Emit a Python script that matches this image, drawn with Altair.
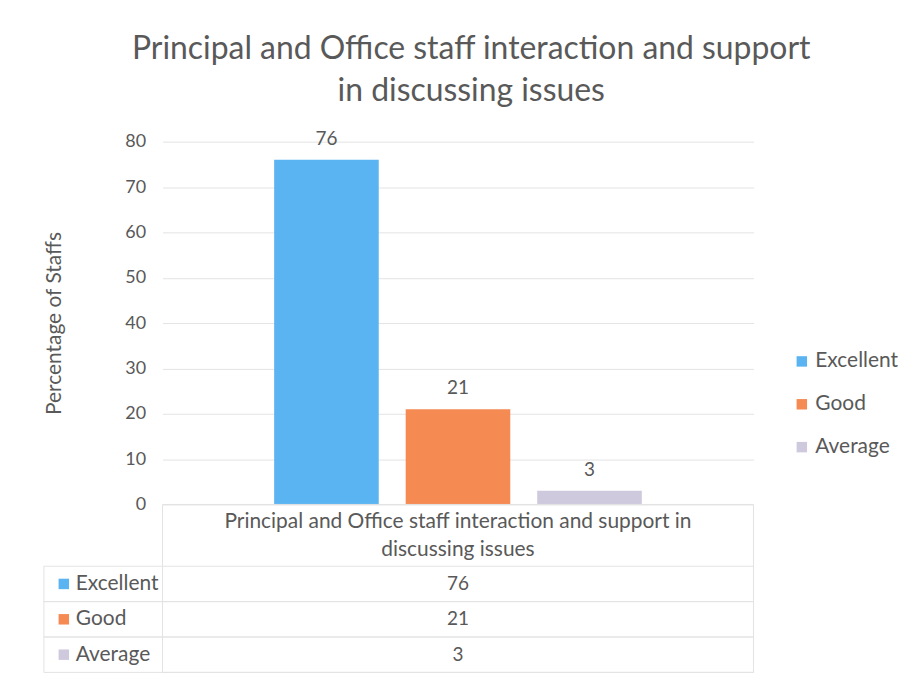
import altair as alt
import pandas as pd

# ---- data ----
title_lines = ["Principal and Office staff interaction and support", "in discussing issues"]
category_lines = ["Principal and Office staff interaction and support in", "discussing issues"]
ratings = ["Excellent", "Good", "Average"]
values = [76, 21, 3]
colors = ["#5AB4F2", "#F58A52", "#CFC9DD"]
y_ticks = [0, 10, 20, 30, 40, 50, 60, 70, 80]
y_title = "Percentage of Staffs"

# ---- style / layout ----
FONT = "Lato"
TXT = "#595959"
GRID = "#E3E3E3"
PLOT_W, PLOT_H = 593, 364
LABEL_COL = 119
HEADER_H = 62
ROW_H = 35.5
TABLE_H = HEADER_H + 3 * ROW_H
TXT_SIZE = 21
NUM_SIZE = 19

df = pd.DataFrame({"Rating": ratings, "Value": values})
hdr = pd.DataFrame({"text": ["\n".join(category_lines)]})

color = alt.Color(
    "Rating:N",
    sort=ratings,
    scale=alt.Scale(domain=ratings, range=colors),
    legend=alt.Legend(
        title=None, orient="none", legendX=631, legendY=210,
        symbolType="square", symbolSize=110, symbolStrokeWidth=0,
        labelFont=FONT, labelFontSize=TXT_SIZE, labelColor=TXT,
        rowPadding=21, labelOffset=3, padding=0,
    ),
)

xb = alt.X("Rating:N", sort=ratings,
           scale=alt.Scale(paddingInner=0.205, paddingOuter=0.849), axis=None)
yb = alt.Y(
    "Value:Q",
    scale=alt.Scale(domain=[0, 80], nice=False),
    axis=alt.Axis(
        values=y_ticks, title=y_title, grid=True, gridColor=GRID,
        domain=False, ticks=False, labelPadding=17, titlePadding=60,
        labelFont=FONT, titleFont=FONT, labelFontSize=18, titleFontSize=TXT_SIZE,
        titleFontWeight="normal", labelColor=TXT, titleColor=TXT,
    ),
)

bars = alt.Chart(df).mark_bar().encode(x=xb, y=yb, color=color)
bar_labels = alt.Chart(df).mark_text(
    baseline="bottom", dy=-11, font=FONT, fontSize=NUM_SIZE, color=TXT
).encode(x=xb, y=yb, text="Value:Q")
top = (bars + bar_labels).properties(width=PLOT_W, height=PLOT_H)

# ---- data table below (label column sits left of the plot origin) ----
ys = alt.Y("Rating:N", sort=ratings, axis=None,
           scale=alt.Scale(domain=ratings, paddingInner=0,
                           paddingOuter=HEADER_H / (2 * ROW_H), align=1))

row_cells = alt.Chart(df).mark_rect(fillOpacity=0, stroke=GRID, strokeWidth=1).encode(
    y=ys, x=alt.value(-LABEL_COL), x2=alt.value(PLOT_W))
header_cell = alt.Chart(hdr).mark_rect(fillOpacity=0, stroke=GRID, strokeWidth=1).encode(
    x=alt.value(0), x2=alt.value(PLOT_W), y=alt.value(0), y2=alt.value(TABLE_H))
header_text = alt.Chart(hdr).mark_text(
    font=FONT, fontSize=TXT_SIZE, color=TXT, lineBreak="\n", lineHeight=28, baseline="middle"
).encode(x=alt.value(PLOT_W / 2), y=alt.value(18), text="text:N")
value_text = alt.Chart(df).mark_text(font=FONT, fontSize=NUM_SIZE, color=TXT).encode(
    y=ys, x=alt.value(PLOT_W / 2), text="Value:Q")
squares = alt.Chart(df).mark_square(size=110, opacity=1).encode(
    y=ys, x=alt.value(-LABEL_COL + 20), color=color)
row_labels = alt.Chart(df).mark_text(font=FONT, fontSize=TXT_SIZE, color=TXT, align="left").encode(
    y=ys, x=alt.value(-LABEL_COL + 32), text="Rating:N")

table = (row_cells + header_cell + header_text + value_text + squares + row_labels).properties(
    width=PLOT_W, height=TABLE_H)

chart = alt.vconcat(top, table, spacing=0, bounds="flush").properties(
    title=alt.TitleParams(
        title_lines, font=FONT, fontSize=32, fontWeight="normal", color=TXT,
        anchor="middle", lineHeight=42, offset=22,
    ),
    padding={"left": 35, "top": 24, "right": 0, "bottom": 0},
    background="white",
).configure_view(stroke=None)

chart.save("out.html", embed_options={"renderer": "svg", "actions": False})
